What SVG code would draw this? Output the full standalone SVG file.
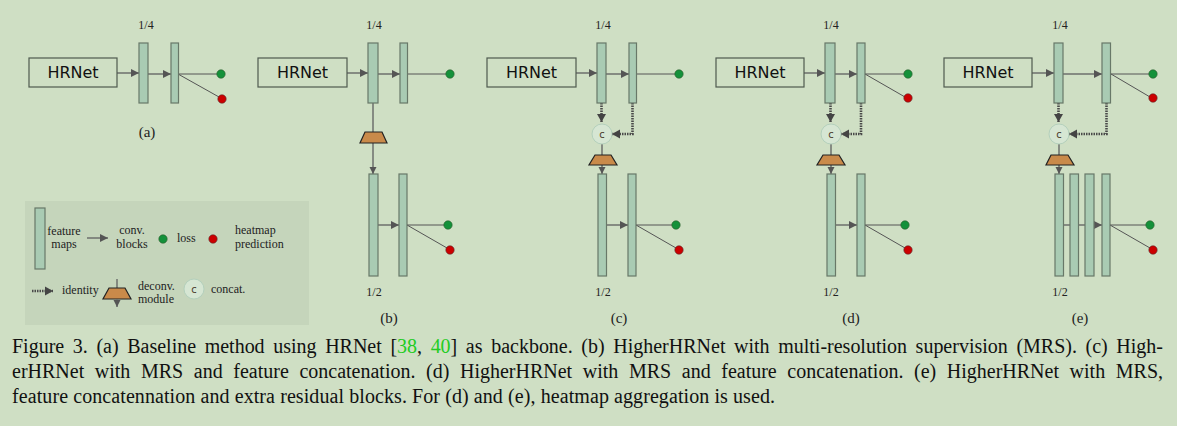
<svg xmlns="http://www.w3.org/2000/svg" width="1177" height="426" viewBox="0 0 1177 426">
<defs>
<style>
.bg{fill:#cfdfc4}
.hr{fill:none;stroke:#4f5a4f;stroke-width:1.2}
.hrt{font-family:"DejaVu Sans",sans-serif;font-size:16px;fill:#111;text-anchor:middle}
.fm{fill:#a9cbb3;stroke:#687868;stroke-width:1.2}
.conv{stroke:#6c6f6c;stroke-width:1.5;fill:none}
.out{stroke:#555;stroke-width:1;fill:none}
.idn{stroke:#4a4a4a;stroke-width:2.6;stroke-dasharray:1.5 1;fill:none}
.dc{fill:#c98a4a;stroke:#222;stroke-width:1.2}
.cc{fill:#d6e6d3;stroke:#b4d0bc;stroke-width:1}
.cct{font-family:"DejaVu Sans",sans-serif;font-size:10px;fill:#4a3a2a;text-anchor:middle}
.g{fill:#14913a;stroke:#2a5a2a;stroke-width:0.6}
.r{fill:#cc0000;stroke:#5a2a2a;stroke-width:0.6}
.sc{font-family:"Liberation Serif",serif;font-size:12px;fill:#222;text-anchor:middle}
.lg{font-family:"Liberation Serif",serif;font-size:12px;fill:#222}
.lab{font-family:"Liberation Serif",serif;font-size:15px;fill:#222;text-anchor:middle}
.cap{font-family:"Liberation Serif",serif;font-size:20px;fill:#111}
.cite{fill:#22cc22}
</style>
<marker id="ah" markerUnits="userSpaceOnUse" markerWidth="9" markerHeight="9" refX="8" refY="4.5" orient="auto"><path d="M0,0.5 L8,4.5 L0,8.5 z" fill="#555"/></marker>
<marker id="ahs" markerUnits="userSpaceOnUse" markerWidth="8" markerHeight="8" refX="7" refY="4" orient="auto"><path d="M0,0.5 L7,4 L0,7.5 z" fill="#555"/></marker>
<marker id="ahi" markerUnits="userSpaceOnUse" markerWidth="10" markerHeight="10" refX="8" refY="5" orient="auto"><path d="M0,0.5 L8,5 L0,9.5 z" fill="#444"/></marker>
</defs>
<rect class="bg" x="0" y="0" width="1177" height="426"/>

<g id="connectors">
<!-- (a) -->
<line class="conv" x1="117" y1="73" x2="139" y2="73" marker-end="url(#ah)"/>
<line class="conv" x1="148" y1="74" x2="171" y2="74" marker-end="url(#ah)"/>
<line class="out" x1="178" y1="74" x2="217" y2="74"/>
<line class="out" x1="178" y1="74" x2="219" y2="97"/>
<!-- (b) -->
<line class="conv" x1="347" y1="73" x2="368" y2="73" marker-end="url(#ah)"/>
<line class="conv" x1="378" y1="74" x2="400" y2="74" marker-end="url(#ah)"/>
<line class="out" x1="407" y1="74" x2="446" y2="74"/>
<line class="conv" x1="373" y1="103" x2="373" y2="132"/>
<line class="conv" x1="373" y1="143" x2="373" y2="174" marker-end="url(#ahs)"/>
<line class="conv" x1="378" y1="225" x2="399" y2="225" marker-end="url(#ah)"/>
<line class="out" x1="407" y1="225" x2="444" y2="225"/>
<line class="out" x1="407" y1="225" x2="447" y2="248"/>
<!-- (c) -->
<line class="conv" x1="576" y1="73" x2="597" y2="73" marker-end="url(#ah)"/>
<line class="conv" x1="606" y1="74" x2="629" y2="74" marker-end="url(#ah)"/>
<line class="out" x1="636" y1="74" x2="675" y2="74"/>
<path class="idn" d="M601.5,103 V122" marker-end="url(#ahi)"/>
<path class="idn" d="M632.5,103 V134 H612" marker-end="url(#ahi)"/>
<line class="conv" x1="602" y1="144" x2="602" y2="155"/>
<line class="conv" x1="602" y1="165" x2="602" y2="174" marker-end="url(#ahs)"/>
<line class="conv" x1="606" y1="225" x2="628" y2="225" marker-end="url(#ah)"/>
<line class="out" x1="636" y1="225" x2="672" y2="225"/>
<line class="out" x1="636" y1="225" x2="676" y2="248"/>
<!-- (d) -->
<line class="conv" x1="804" y1="73" x2="825" y2="73" marker-end="url(#ah)"/>
<line class="conv" x1="835" y1="74" x2="857" y2="74" marker-end="url(#ah)"/>
<line class="out" x1="865" y1="74" x2="904" y2="74"/>
<line class="out" x1="865" y1="74" x2="905" y2="97"/>
<path class="idn" d="M830.5,103 V122" marker-end="url(#ahi)"/>
<path class="idn" d="M861,103 V134 H841" marker-end="url(#ahi)"/>
<line class="conv" x1="831" y1="144" x2="831" y2="155"/>
<line class="conv" x1="831" y1="165" x2="831" y2="174" marker-end="url(#ahs)"/>
<line class="conv" x1="835" y1="225" x2="857" y2="225" marker-end="url(#ah)"/>
<line class="out" x1="865" y1="225" x2="901" y2="225"/>
<line class="out" x1="865" y1="225" x2="905" y2="248"/>
<!-- (e) -->
<line class="conv" x1="1032" y1="73" x2="1054" y2="73" marker-end="url(#ah)"/>
<line class="conv" x1="1063" y1="74" x2="1102" y2="74" marker-end="url(#ah)"/>
<line class="out" x1="1111" y1="74" x2="1149" y2="74"/>
<line class="out" x1="1111" y1="74" x2="1150" y2="97"/>
<path class="idn" d="M1058.5,103 V122" marker-end="url(#ahi)"/>
<path class="idn" d="M1106.5,103 V134 H1069" marker-end="url(#ahi)"/>
<line class="conv" x1="1059" y1="144" x2="1059" y2="155"/>
<line class="conv" x1="1059" y1="165" x2="1059" y2="174" marker-end="url(#ahs)"/>
<line class="conv" x1="1063" y1="225" x2="1102" y2="225" marker-end="url(#ah)"/>
<line class="out" x1="1110" y1="225" x2="1146" y2="225"/>
<line class="out" x1="1110" y1="225" x2="1150" y2="248"/>
</g>

<!-- panel (a) -->
<g id="a-hrnet"><rect class="hr" x="29" y="58" width="88" height="29"/><text class="hrt" x="73" y="78">HRNet</text></g>
<g id="a-fm1"><rect class="fm" x="139" y="43" width="9" height="60"/></g>
<g id="a-fm2"><rect class="fm" x="171" y="43" width="7.5" height="60"/></g>
<g id="a-loss"><circle class="g" cx="221" cy="74" r="4.2"/></g>
<g id="a-pred"><circle class="r" cx="222" cy="99" r="4.2"/></g>
<g id="a-labels"><text class="sc" x="146" y="29">1/4</text><text class="lab" x="147" y="137">(a)</text></g>

<!-- panel (b) -->
<g id="b-hrnet"><rect class="hr" x="258" y="58" width="89" height="29"/><text class="hrt" x="302.5" y="78">HRNet</text></g>
<g id="b-fm1"><rect class="fm" x="368" y="43" width="10" height="60"/></g>
<g id="b-fm2"><rect class="fm" x="400" y="43" width="7.5" height="60"/></g>
<g id="b-loss1"><circle class="g" cx="450" cy="74" r="4.2"/></g>
<g id="b-deconv"><path class="dc" d="M365,132 H382 L387,143 H360 Z"/></g>
<g id="b-fm3"><rect class="fm" x="369" y="174" width="9" height="102"/></g>
<g id="b-fm4"><rect class="fm" x="399" y="174" width="8" height="102"/></g>
<g id="b-loss2"><circle class="g" cx="448" cy="225" r="4.2"/></g>
<g id="b-pred2"><circle class="r" cx="450" cy="250" r="4.2"/></g>
<g id="b-labels"><text class="sc" x="374" y="29">1/4</text><text class="sc" x="374" y="296">1/2</text><text class="lab" x="389" y="323">(b)</text></g>

<!-- panel (c) -->
<g id="c-hrnet"><rect class="hr" x="487" y="58" width="89" height="29"/><text class="hrt" x="531.5" y="78">HRNet</text></g>
<g id="c-fm1"><rect class="fm" x="597" y="43" width="9" height="60"/></g>
<g id="c-fm2"><rect class="fm" x="629" y="43" width="7.5" height="60"/></g>
<g id="c-loss1"><circle class="g" cx="679" cy="74" r="4.2"/></g>
<g id="c-concat"><circle class="cc" cx="602" cy="134" r="10"/><text class="cct" x="602" y="137.5">c</text></g>
<g id="c-deconv"><path class="dc" d="M595,155 H611 L617,165 H589 Z"/></g>
<g id="c-fm3"><rect class="fm" x="598" y="174" width="8.5" height="102"/></g>
<g id="c-fm4"><rect class="fm" x="628" y="174" width="8" height="102"/></g>
<g id="c-loss2"><circle class="g" cx="676" cy="225" r="4.2"/></g>
<g id="c-pred2"><circle class="r" cx="679" cy="250" r="4.2"/></g>
<g id="c-labels"><text class="sc" x="603" y="29">1/4</text><text class="sc" x="603" y="296">1/2</text><text class="lab" x="619" y="323">(c)</text></g>

<!-- panel (d) -->
<g id="d-hrnet"><rect class="hr" x="716" y="58" width="88" height="29"/><text class="hrt" x="760" y="78">HRNet</text></g>
<g id="d-fm1"><rect class="fm" x="825" y="43" width="10" height="60"/></g>
<g id="d-fm2"><rect class="fm" x="857" y="43" width="8" height="60"/></g>
<g id="d-loss1"><circle class="g" cx="908" cy="74" r="4.2"/></g>
<g id="d-pred1"><circle class="r" cx="908" cy="98" r="4.2"/></g>
<g id="d-concat"><circle class="cc" cx="831" cy="134" r="10"/><text class="cct" x="831" y="137.5">c</text></g>
<g id="d-deconv"><path class="dc" d="M823,155 H839 L845,165 H817 Z"/></g>
<g id="d-fm3"><rect class="fm" x="827" y="174" width="8.5" height="102"/></g>
<g id="d-fm4"><rect class="fm" x="857" y="174" width="8" height="102"/></g>
<g id="d-loss2"><circle class="g" cx="905" cy="225" r="4.2"/></g>
<g id="d-pred2"><circle class="r" cx="908" cy="250" r="4.2"/></g>
<g id="d-labels"><text class="sc" x="831" y="29">1/4</text><text class="sc" x="831" y="296">1/2</text><text class="lab" x="851" y="323">(d)</text></g>

<!-- panel (e) -->
<g id="e-hrnet"><rect class="hr" x="944" y="58" width="88" height="29"/><text class="hrt" x="988" y="78">HRNet</text></g>
<g id="e-fm1"><rect class="fm" x="1054" y="43" width="9" height="60"/></g>
<g id="e-fm2"><rect class="fm" x="1102" y="43" width="8.5" height="60"/></g>
<g id="e-loss1"><circle class="g" cx="1153" cy="74" r="4.2"/></g>
<g id="e-pred1"><circle class="r" cx="1153" cy="98" r="4.2"/></g>
<g id="e-concat"><circle class="cc" cx="1059" cy="134" r="10"/><text class="cct" x="1059" y="137.5">c</text></g>
<g id="e-deconv"><path class="dc" d="M1051,155 H1068 L1074,165 H1046 Z"/></g>
<g id="e-fm3"><rect class="fm" x="1055" y="174" width="8.5" height="102"/></g>
<g id="e-res1"><rect class="fm" x="1070" y="174" width="8.5" height="102"/></g>
<g id="e-res2"><rect class="fm" x="1085" y="174" width="9" height="102"/></g>
<g id="e-fm4"><rect class="fm" x="1102" y="174" width="8" height="102"/></g>
<g id="e-loss2"><circle class="g" cx="1150" cy="225" r="4.2"/></g>
<g id="e-pred2"><circle class="r" cx="1153" cy="250" r="4.2"/></g>
<g id="e-labels"><text class="sc" x="1060" y="29">1/4</text><text class="sc" x="1060" y="296">1/2</text><text class="lab" x="1080" y="323">(e)</text></g>

<!-- legend -->
<g id="legend">
<rect x="25" y="201" width="284" height="124" fill="#c5d5bb"/>
<rect class="fm" x="35" y="208" width="10" height="61"/>
<text class="lg" x="64" y="235" text-anchor="middle">feature</text>
<text class="lg" x="64" y="248" text-anchor="middle">maps</text>
<line class="conv" x1="87" y1="238" x2="108" y2="238" marker-end="url(#ah)"/>
<text class="lg" x="132" y="234" text-anchor="middle">conv.</text>
<text class="lg" x="132" y="248" text-anchor="middle">blocks</text>
<circle class="g" cx="163" cy="239" r="4.2"/>
<text class="lg" x="177" y="242">loss</text>
<circle class="r" cx="213" cy="239" r="4.2"/>
<text class="lg" x="235" y="234">heatmap</text>
<text class="lg" x="235" y="248">prediction</text>
<path class="idn" d="M32,291 H53" marker-end="url(#ahi)"/>
<text class="lg" x="62" y="294">identity</text>
<line class="conv" x1="117" y1="279" x2="117" y2="288"/>
<path class="dc" d="M109,288 H125 L131,299 H103 Z"/>
<line class="conv" x1="117" y1="299" x2="117" y2="307" marker-end="url(#ahs)"/>
<text class="lg" x="138" y="290">deconv.</text>
<text class="lg" x="138" y="303">module</text>
<circle class="cc" cx="194" cy="289" r="10"/><text class="cct" x="194" y="292.5">c</text>
<text class="lg" x="211" y="293">concat.</text>
</g>

<!-- caption -->
<g id="caption">
<text class="cap" x="12" y="353" word-spacing="3.6" textLength="1151" lengthAdjust="spacing">Figure 3. (a) Baseline method using HRNet [<tspan class="cite">38</tspan>, <tspan class="cite">40</tspan>] as backbone. (b) HigherHRNet with multi-resolution supervision (MRS). (c) High-</text>
<text class="cap" x="12" y="378" word-spacing="5.6" textLength="1151" lengthAdjust="spacing">erHRNet with MRS and feature concatenation. (d) HigherHRNet with MRS and feature concatenation. (e) HigherHRNet with MRS,</text>
<text class="cap" x="12" y="403" textLength="763" lengthAdjust="spacing">feature concatennation and extra residual blocks. For (d) and (e), heatmap aggregation is used.</text>
</g>
</svg>
